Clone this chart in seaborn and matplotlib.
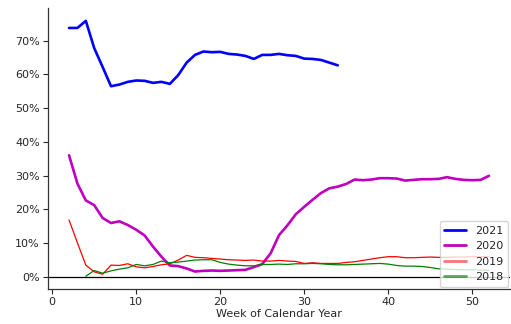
import matplotlib
matplotlib.use("Agg")
import matplotlib.pyplot as plt
import seaborn as sns
import numpy as np
import pandas as pd
from matplotlib.ticker import PercentFormatter

weeks_2021 = list(range(2, 35))
vals_2021 = [73.8, 73.8, 75.9, 67.8, 62.2, 56.5, 57.0, 57.8, 58.2, 58.1, 57.5, 57.8, 57.2,
             59.8, 63.5, 65.8, 66.8, 66.6, 66.7, 66.1, 65.9, 65.5, 64.6, 65.8, 65.8, 66.1,
             65.7, 65.5, 64.7, 64.6, 64.3, 63.5, 62.7]

weeks_2020 = list(range(2, 53))
vals_2020 = [36.0, 27.6, 22.6, 21.2, 17.4, 15.9, 16.4, 15.3, 13.9, 12.2, 8.9, 5.9, 3.3,
             3.1, 2.4, 1.5, 1.7, 1.8, 1.7, 1.8, 1.9, 2.0, 2.8, 3.7, 6.9, 12.3, 15.2, 18.5,
             20.7, 22.8, 24.8, 26.2, 26.7, 27.5, 28.8, 28.6, 28.8, 29.2, 29.2, 29.1, 28.5,
             28.7, 28.9, 28.9, 29.0, 29.5, 29.0, 28.7, 28.6, 28.7, 29.9]

weeks_2019 = list(range(2, 53))
vals_2019 = [16.8, 10.0, 3.4, 1.4, 0.7, 3.4, 3.3, 3.8, 2.9, 2.6, 3.0, 3.5, 3.8,
             4.9, 6.3, 5.7, 5.6, 5.4, 5.2, 5.0, 4.9, 4.8, 4.9, 4.6, 4.6, 4.8, 4.6, 4.5,
             3.9, 4.1, 3.9, 3.9, 3.9, 4.2, 4.4, 4.8, 5.2, 5.6, 5.9, 5.9, 5.6, 5.6, 5.7,
             5.8, 5.7, 5.7, 5.8, 5.8, 5.9, 5.9, 6.0]

weeks_2018 = list(range(4, 53))
vals_2018 = [0.1, 1.8, 1.0, 1.7, 2.2, 2.6, 3.6, 3.2, 3.6, 4.6, 4.1, 4.3, 4.6, 4.9, 5.0,
             5.0, 4.2, 3.7, 3.4, 3.2, 3.2, 3.6, 3.6, 3.7, 3.6, 3.8, 3.8, 3.9, 3.8, 3.6,
             3.5, 3.5, 3.6, 3.7, 3.8, 3.9, 3.7, 3.3, 3.1, 3.1, 3.0, 2.7, 2.3, 2.2, 2.1,
             2.0, 2.0, 1.9, 1.9]

series = [
    ("2021", weeks_2021, vals_2021, "blue", 1.9),
    ("2020", weeks_2020, vals_2020, "m", 1.9),
    ("2019", weeks_2019, vals_2019, "red", 0.9),
    ("2018", weeks_2018, vals_2018, "green", 0.9),
]

sns.set_style("ticks")
plt.rcParams["font.family"] = ["DejaVu Sans"]

fig = plt.figure(figsize=(5.11, 3.24), dpi=100)
ax = fig.add_axes([0.094, 0.108, 0.904, 0.867])

for name, w, v, c, lw in series:
    df = pd.DataFrame({"week": w, "value": v})
    sns.lineplot(data=df, x="week", y="value", color=c, linewidth=lw, label=name, ax=ax)

ax.axhline(0, color="black", linewidth=0.9)
ax.yaxis.set_major_formatter(PercentFormatter(decimals=0))
ax.set_yticks([0, 10, 20, 30, 40, 50, 60, 70])
ax.set_xticks([0, 10, 20, 30, 40, 50])
ax.tick_params(labelsize=8, length=3.5, width=0.8, pad=2.5)
ax.set_xlabel("Week of Calendar Year", fontsize=8, labelpad=1)
ax.set_ylabel("")
sns.despine(ax=ax)
for s in ["left", "bottom"]:
    ax.spines[s].set_linewidth(0.9)
    ax.spines[s].set_color("#333333")

leg = ax.legend(loc="lower right", fontsize=8, frameon=True, borderaxespad=0.2,
                handlelength=2.0, labelspacing=0.5)
for line, alpha in zip(leg.get_lines(), [1, 1, 0.55, 0.65]):
    line.set_linewidth(2.0)
    line.set_alpha(alpha)

fig.savefig("out.png", dpi=100)
